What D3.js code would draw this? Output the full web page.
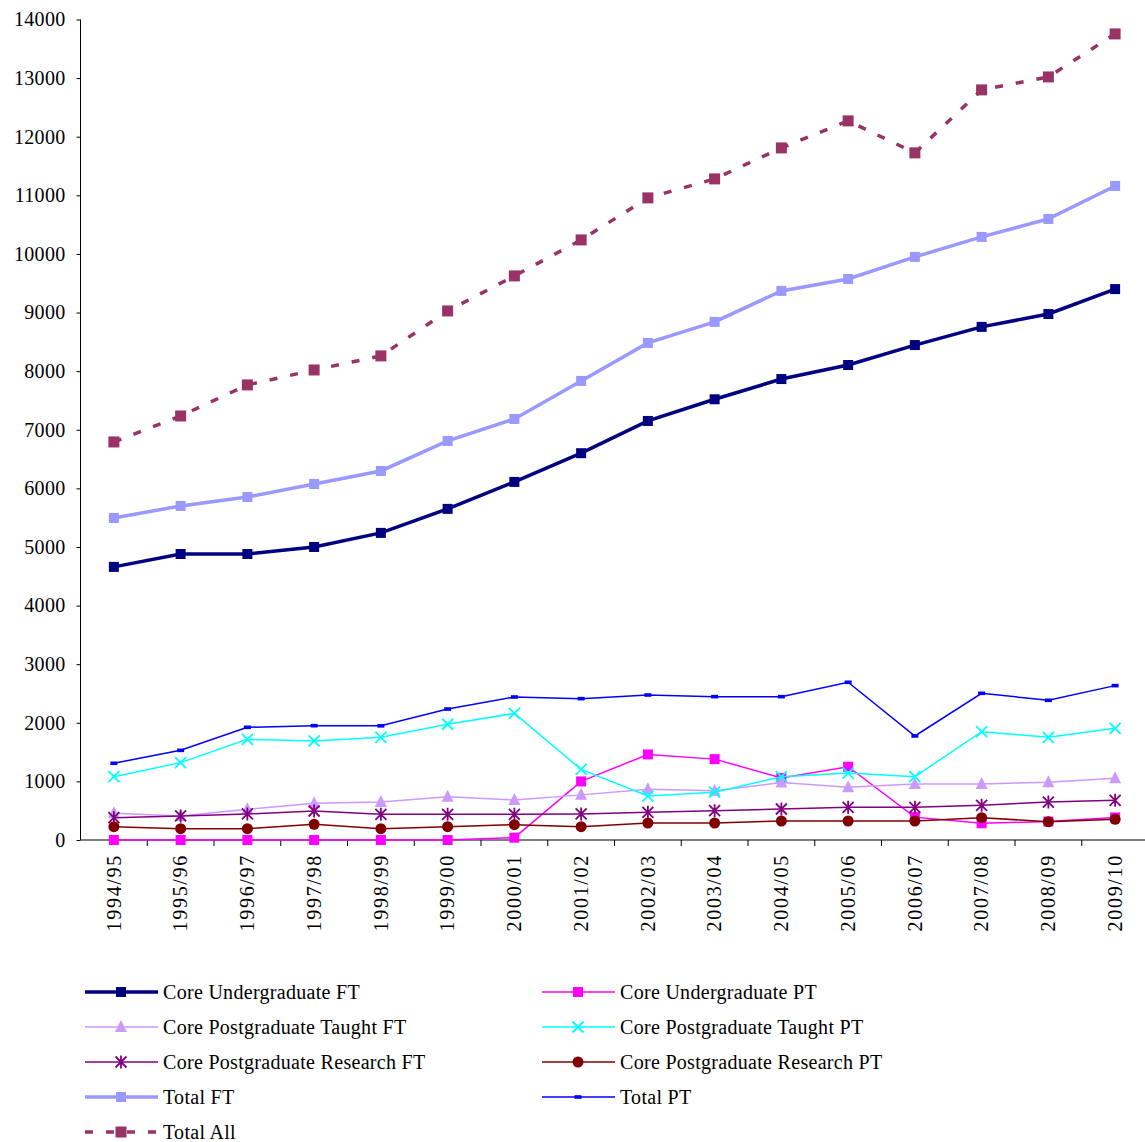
<!DOCTYPE html>
<html><head><meta charset="utf-8">
<script src="https://cdn.jsdelivr.net/npm/d3@7"></script>
<style>body{margin:0;background:#fff}svg{display:block}text{font-family:"Liberation Serif","Times New Roman",serif}</style>
</head><body><svg id="c" width="1145" height="1142"></svg>
<script>
const years = ["1994/95","1995/96","1996/97","1997/98","1998/99","1999/00","2000/01","2001/02","2002/03","2003/04","2004/05","2005/06","2006/07","2007/08","2008/09","2009/10"];
const yTicks = [0,1000,2000,3000,4000,5000,6000,7000,8000,9000,10000,11000,12000,13000,14000];

const coreUgFT   = [4660,4880,4880,5000,5240,5650,6110,6600,7150,7520,7865,8105,8445,8755,8975,9400];
const coreUgPT   = [0,0,0,0,0,0,40,1000,1460,1380,1060,1250,390,285,315,385];
const pgTaughtFT = [455,410,525,625,648,740,683,770,865,842,980,900,956,956,985,1052];
const pgTaughtPT = [1080,1320,1718,1690,1752,1975,2160,1205,750,815,1080,1143,1080,1848,1752,1906];
const pgResFT    = [381,410,444,495,438,438,438,444,472,500,529,558,558,592,648,677];
const pgResPT    = [227,193,193,268,193,227,262,227,290,290,324,324,324,381,312,353];
const totalFT    = [5495,5700,5853,6075,6297,6809,7184,7833,8481,8840,9369,9573,9949,10290,10597,11160];
const totalPT    = [1309,1530,1923,1951,1948,2235,2440,2412,2474,2446,2446,2691,1775,2503,2384,2634];
const totalAll   = [6792,7235,7765,8020,8260,9027,9625,10239,10956,11280,11809,12270,11724,12799,13020,13754];

const series = [
  {name:"Core Undergraduate FT", values:coreUgFT, color:"#000080", width:3.5, marker:"square", size:10},
  {name:"Core Undergraduate PT", values:coreUgPT, color:"#FF00FF", width:1.5, marker:"square", size:10},
  {name:"Core Postgraduate Taught FT", values:pgTaughtFT, color:"#CC99FF", width:1.5, marker:"triangle", size:12},
  {name:"Core Postgraduate Taught PT", values:pgTaughtPT, color:"#00FFFF", width:1.5, marker:"x", size:11},
  {name:"Core Postgraduate Research FT", values:pgResFT, color:"#800080", width:1.5, marker:"star", size:11},
  {name:"Core Postgraduate Research PT", values:pgResPT, color:"#800000", width:1.5, marker:"circle", size:11},
  {name:"Total FT", values:totalFT, color:"#9999FF", width:3.5, marker:"square", size:10},
  {name:"Total PT", values:totalPT, color:"#0000FF", width:1.5, marker:"dash", size:7},
  {name:"Total All", values:totalAll, color:"#993366", width:3.5, marker:"square", size:11, dash:"8,13"}
];

const svg = d3.select("#c");
const pL = 80.5, pR = 1148.5, pT = 19.5, pB = 840;
const x = d3.scaleBand().domain(years).range([pL, pR]);
const y = d3.scaleLinear().domain([0,14000]).range([pB, pT]);

// y axis
const ya = svg.append("g").attr("transform",`translate(${pL},0)`)
  .call(d3.axisLeft(y).tickValues(yTicks).tickSize(4).tickPadding(11).tickFormat(d3.format("d")));
ya.attr("font-family",null).attr("font-size",null);
ya.selectAll("text").attr("font-size",20).attr("letter-spacing",0.3).attr("fill","#000");
ya.selectAll("line,path").attr("stroke","#000");
ya.select(".domain").attr("d",`M0,${pB}V${pT}`);

// x axis
const xa = svg.append("g").attr("transform",`translate(0,${pB})`)
  .call(d3.axisBottom(x).tickSize(0).tickFormat(d=>d));
xa.attr("font-family",null).attr("font-size",null);
xa.select(".domain").attr("stroke","#000").attr("d",`M${pL},0H${pR}`);
xa.selectAll(".tick text").attr("font-size",20).attr("letter-spacing",1.7).attr("fill","#000")
  .attr("transform","rotate(-90)").attr("text-anchor","end").attr("x",-14).attr("y",0).attr("dy","0.34em");
// boundary ticks
svg.append("g").selectAll("line").data(d3.range(1,17)).join("line")
  .attr("x1",i=>pL + i*x.step()).attr("x2",i=>pL + i*x.step())
  .attr("y1",pB).attr("y2",pB+6).attr("stroke","#000");

function drawMarker(g, m, cx, cy, color, size){
  const h = size/2;
  if(m==="square") g.append("rect").attr("x",cx-h).attr("y",cy-h).attr("width",size).attr("height",size).attr("fill",color);
  else if(m==="triangle") g.append("path").attr("d",`M${cx},${cy-h-1}L${cx+h},${cy+h-1}L${cx-h},${cy+h-1}Z`).attr("fill",color);
  else if(m==="circle") g.append("circle").attr("cx",cx).attr("cy",cy).attr("r",h).attr("fill",color);
  else if(m==="x") g.append("path").attr("d",`M${cx-h},${cy-h}L${cx+h},${cy+h}M${cx-h},${cy+h}L${cx+h},${cy-h}`).attr("stroke",color).attr("stroke-width",1.8);
  else if(m==="star") g.append("path").attr("d",`M${cx-h},${cy-h}L${cx+h},${cy+h}M${cx-h},${cy+h}L${cx+h},${cy-h}M${cx},${cy-h-1}L${cx},${cy+h+1}`).attr("stroke",color).attr("stroke-width",1.8);
  else if(m==="dash") g.append("rect").attr("x",cx-h).attr("y",cy-1.8).attr("width",size).attr("height",3.6).attr("fill",color);
}

const line = d3.line().x((d,i)=>x(years[i])+x.bandwidth()/2).y(d=>y(d));
series.forEach(s=>{
  const g = svg.append("g");
  g.append("path").attr("d",line(s.values)).attr("fill","none").attr("stroke",s.color)
    .attr("stroke-width",s.width).attr("stroke-dasharray",s.dash||null);
  s.values.forEach((v,i)=>drawMarker(g,s.marker,x(years[i])+x.bandwidth()/2,y(v),s.color,s.size));
});

// legend
const lg = svg.append("g");
series.forEach((s,i)=>{
  const col = i%2, row = Math.floor(i/2);
  const lx = col===0 ? 85 : 542, ly = 992 + row*35;
  const g = lg.append("g");
  g.append("line").attr("x1",lx).attr("x2",lx+73).attr("y1",ly).attr("y2",ly)
    .attr("stroke",s.color).attr("stroke-width",s.width).attr("stroke-dasharray",s.dash||null);
  drawMarker(g,s.marker,lx+36,ly,s.color,s.size);
  g.append("text").attr("x",lx+78).attr("y",ly).attr("dy","0.35em").attr("font-size",20)
    .attr("letter-spacing",0.3).text(s.name);
});
</script></body></html>
